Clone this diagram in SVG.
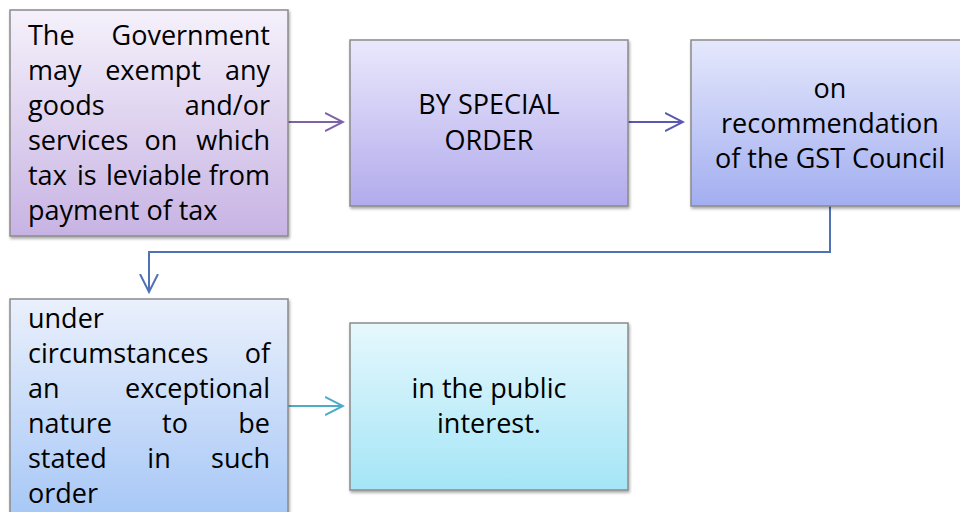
<svg xmlns="http://www.w3.org/2000/svg" width="960" height="512" viewBox="0 0 960 512">
<defs>
<linearGradient id="g1" x1="0" y1="0" x2="0" y2="1"><stop offset="0" stop-color="#f5f1fb"/><stop offset="1" stop-color="#c7b3e3"/></linearGradient>
<linearGradient id="g2" x1="0" y1="0" x2="0" y2="1"><stop offset="0" stop-color="#eae8fc"/><stop offset="1" stop-color="#b2abec"/></linearGradient>
<linearGradient id="g3" x1="0" y1="0" x2="0" y2="1"><stop offset="0" stop-color="#e5e8fc"/><stop offset="1" stop-color="#a2aef0"/></linearGradient>
<linearGradient id="g4" x1="0" y1="0" x2="0" y2="1"><stop offset="0" stop-color="#eaf0fc"/><stop offset="1" stop-color="#a3c5f6"/></linearGradient>
<linearGradient id="g5" x1="0" y1="0" x2="0" y2="1"><stop offset="0" stop-color="#e6f8fd"/><stop offset="1" stop-color="#a4e5f6"/></linearGradient>
<filter id="sh" x="-5%" y="-5%" width="115%" height="115%"><feDropShadow dx="1" dy="2" stdDeviation="1.5" flood-color="#000" flood-opacity="0.35"/></filter>
<marker id="m1" viewBox="0 0 20 20" refX="18" refY="10" markerWidth="20" markerHeight="20" markerUnits="userSpaceOnUse" orient="auto"><polyline points="0,1 18,10 0,19" fill="none" stroke="#7e62a8" stroke-width="2"/></marker>
<marker id="m2" viewBox="0 0 20 20" refX="18" refY="10" markerWidth="20" markerHeight="20" markerUnits="userSpaceOnUse" orient="auto"><polyline points="0,1 18,10 0,19" fill="none" stroke="#5b58b2" stroke-width="2"/></marker>
<marker id="m3" viewBox="0 0 20 20" refX="18" refY="10" markerWidth="20" markerHeight="20" markerUnits="userSpaceOnUse" orient="auto"><polyline points="0,1 18,10 0,19" fill="none" stroke="#4f72b6" stroke-width="2"/></marker>
<marker id="m4" viewBox="0 0 20 20" refX="18" refY="10" markerWidth="20" markerHeight="20" markerUnits="userSpaceOnUse" orient="auto"><polyline points="0,1 18,10 0,19" fill="none" stroke="#4bacc6" stroke-width="2"/></marker>
</defs>
<style>
.box{stroke:#8a8a8a;stroke-width:1.5;filter:url(#sh)}
text{font-family:"Open Sans","Noto Sans","DejaVu Sans",sans-serif;font-size:27px;fill:#000}
.c{text-anchor:middle}
.e{text-anchor:end}
.ln{fill:none;stroke-width:2}
</style>
<rect width="960" height="512" fill="#fff"/>
<g id="connectors">
<line class="ln" x1="288" y1="122" x2="343" y2="122" stroke="#7e62a8" marker-end="url(#m1)"/>
<line class="ln" x1="628" y1="122" x2="683" y2="122" stroke="#5b58b2" marker-end="url(#m2)"/>
<polyline class="ln" points="830,206 830,252 149,252 149,292" stroke="#4f72b6" marker-end="url(#m3)"/>
<line class="ln" x1="288" y1="406" x2="343" y2="406" stroke="#4bacc6" marker-end="url(#m4)"/>
</g>
<g id="node1">
<rect class="box" x="10" y="10" width="278" height="226" fill="url(#g1)"/>
<text x="28" y="45">The</text><text class="e" x="270" y="45">Government</text>
<text x="28" y="80">may</text><text class="c" x="153" y="80">exempt</text><text class="e" x="270" y="80">any</text>
<text x="28" y="115">goods</text><text class="e" x="270" y="115">and/or</text>
<text x="28" y="150">services</text><text class="c" x="161" y="150">on</text><text class="e" x="270" y="150">which</text>
<text x="28" y="185">tax</text><text x="77" y="185">is</text><text x="106" y="185">leviable</text><text class="e" x="270" y="185">from</text>
<text x="28" y="220">payment of tax</text>
</g>
<g id="node2">
<rect class="box" x="350" y="40" width="278" height="166" fill="url(#g2)"/>
<text class="c" x="489" y="114">BY SPECIAL</text>
<text class="c" x="489" y="150">ORDER</text>
</g>
<g id="node3">
<rect class="box" x="691" y="40" width="275" height="166" fill="url(#g3)"/>
<text class="c" x="830" y="98">on</text>
<text class="c" x="830" y="133">recommendation</text>
<text class="c" x="830" y="168">of the GST Council</text>
</g>
<g id="node4">
<rect class="box" x="10" y="299" width="278" height="230" fill="url(#g4)"/>
<text x="28" y="328">under</text>
<text x="28" y="363">circumstances</text><text class="e" x="270" y="363">of</text>
<text x="28" y="398">an</text><text class="e" x="270" y="398">exceptional</text>
<text x="28" y="433">nature</text><text class="c" x="175" y="433">to</text><text class="e" x="270" y="433">be</text>
<text x="28" y="468">stated</text><text class="c" x="159" y="468">in</text><text class="e" x="270" y="468">such</text>
<text x="28" y="503">order</text>
</g>
<g id="node5">
<rect class="box" x="350" y="323" width="278" height="167" fill="url(#g5)"/>
<text class="c" x="489" y="398">in the public</text>
<text class="c" x="489" y="433">interest.</text>
</g>
</svg>
